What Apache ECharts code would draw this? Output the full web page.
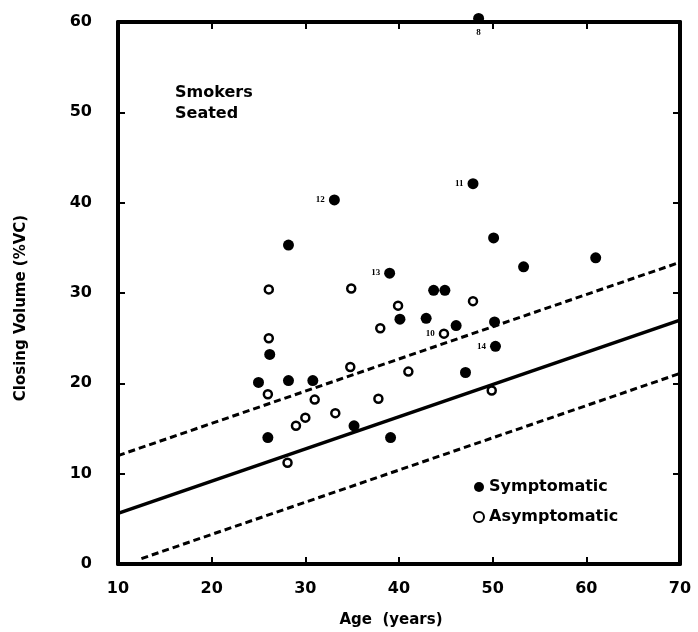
<!DOCTYPE html>
<html>
<head>
<meta charset="utf-8">
<script src="https://cdn.jsdelivr.net/npm/echarts@6/dist/echarts.min.js"></script>
<style>
html,body{margin:0;padding:0;background:#fff;}
#chart{width:698px;height:632px;}
</style>
</head>
<body>
<div id="chart"></div>
<script>
// ---- data ----
const xTicks = [10, 20, 30, 40, 50, 60, 70];
const yTicks = [0, 10, 20, 30, 40, 50, 60];

const sympAge = [48.5, 47.9, 33.1, 28.2, 50.1, 53.3, 61.0, 39.0, 43.7, 44.9, 40.1, 42.9, 46.1, 50.2, 50.3, 47.1, 26.2, 25.0, 28.2, 30.8, 26.0, 35.2, 39.1];
const sympCV  = [60.4, 42.1, 40.3, 35.3, 36.1, 32.9, 33.9, 32.2, 30.3, 30.3, 27.1, 27.2, 26.4, 26.8, 24.1, 21.2, 23.2, 20.1, 20.3, 20.3, 14.0, 15.3, 14.0];
const sympTag = ['8', '11', '12', '', '', '', '', '13', '', '', '', '', '', '', '14', '', '', '', '', '', '', '', ''];

const asymAge = [26.1, 34.9, 47.9, 39.9, 38.0, 44.8, 26.1, 34.8, 41.0, 26.0, 31.0, 37.8, 33.2, 30.0, 29.0, 28.1, 49.9];
const asymCV  = [30.4, 30.5, 29.1, 28.6, 26.1, 25.5, 25.0, 21.8, 21.3, 18.8, 18.2, 18.3, 16.7, 16.2, 15.3, 11.2, 19.2];
const asymTag = ['', '', '', '', '', '10', '', '', '', '', '', '', '', '', '', '', ''];

const fitAge   = [10, 70];
const fitCV    = [5.6, 27.0];
const upperAge = [10, 70];
const upperCV  = [12.0, 33.4];
const lowerAge = [12.5, 70];
const lowerCV  = [0.6, 21.1];

const seriesNames = ['Symptomatic', 'Asymptomatic'];
const panelText = 'Smokers\nSeated';
const xTitle = 'Age  (years)';
const yTitle = 'Closing Volume (%VC)';

// ---- build ----
const FONT = 'DejaVu Sans';
const zip = (a, b) => a.map((v, i) => [v, b[i]]);
const tagged = (a, b, tags) => a.map((v, i) => {
  const item = { value: [v, b[i]] };
  if (tags[i]) {
    item.label = {
      show: true,
      formatter: tags[i],
      position: tags[i] === '8' ? 'bottom' : 'left',
      distance: 4,
      fontFamily: 'Liberation Serif',
      fontWeight: 'bold',
      fontSize: 9,
      color: '#000'
    };
  }
  return item;
});

const axisLine = { show: true, onZero: false, lineStyle: { color: '#000', width: 4 } };
const axisTick = { show: true, inside: true, length: 7, lineStyle: { color: '#000', width: 2 } };
const tickLabel = { fontFamily: FONT, fontWeight: 'bold', fontSize: 16, color: '#000' };

const chart = echarts.init(document.getElementById('chart'), null, { renderer: 'canvas' });
chart.setOption({
  backgroundColor: '#fff',
  animation: false,
  grid: { left: 118, right: 18, top: 22, bottom: 68 },
  xAxis: [
    { type: 'value', position: 'bottom', min: 10, max: 70, interval: 10,
      axisLine, axisTick, splitLine: { show: false },
      axisLabel: Object.assign({ margin: 17, formatter: v => xTicks.includes(v) ? String(v) : '' }, tickLabel) },
    { type: 'value', position: 'top', min: 10, max: 70, interval: 10,
      axisLine, axisTick, splitLine: { show: false }, axisLabel: { show: false } }
  ],
  yAxis: [
    { type: 'value', position: 'left', min: 0, max: 60, interval: 10,
      axisLine, axisTick, splitLine: { show: false },
      axisLabel: Object.assign({ margin: 26, formatter: v => yTicks.includes(v) ? String(v) : '' }, tickLabel) },
    { type: 'value', position: 'right', min: 0, max: 60, interval: 10,
      axisLine, axisTick, splitLine: { show: false }, axisLabel: { show: false } }
  ],
  legend: {
    data: seriesNames,
    orient: 'vertical',
    left: 468, top: 474,
    itemWidth: 10, itemHeight: 10, itemGap: 14,
    textStyle: { fontFamily: FONT, fontWeight: 'bold', fontSize: 16, color: '#000' }
  },
  graphic: [
    { type: 'text', left: 175, top: 82,
      style: { text: panelText, fontFamily: FONT, fontWeight: 'bold', fontSize: 16, lineHeight: 21, fill: '#000' } },
    { type: 'text', x: 391, y: 620,
      style: { text: xTitle, fontFamily: FONT, fontWeight: 'bold', fontSize: 15, fill: '#000', align: 'center', verticalAlign: 'middle' } },
    { type: 'text', x: 21, y: 308, rotation: Math.PI / 2,
      style: { text: yTitle, fontFamily: FONT, fontWeight: 'bold', fontSize: 15, fill: '#000', align: 'center', verticalAlign: 'middle' } }
  ],
  series: [
    { name: 'fit', type: 'line', data: zip(fitAge, fitCV), symbol: 'none', silent: true,
      lineStyle: { color: '#000', width: 3.5 } },
    { name: 'upper', type: 'line', data: zip(upperAge, upperCV), symbol: 'none', silent: true,
      lineStyle: { color: '#000', width: 3, type: [7, 4] } },
    { name: 'lower', type: 'line', data: zip(lowerAge, lowerCV), symbol: 'none', silent: true,
      lineStyle: { color: '#000', width: 3, type: [7, 4] } },
    { name: seriesNames[0], type: 'scatter', clip: false, symbol: 'circle', symbolSize: 11,
      itemStyle: { color: '#000', opacity: 1 },
      data: tagged(sympAge, sympCV, sympTag) },
    { name: seriesNames[1], type: 'scatter', clip: false, symbol: 'circle', symbolSize: 8,
      itemStyle: { color: '#fff', borderColor: '#000', borderWidth: 2.5, opacity: 1 },
      data: tagged(asymAge, asymCV, asymTag) }
  ]
});
</script>
</body>
</html>
